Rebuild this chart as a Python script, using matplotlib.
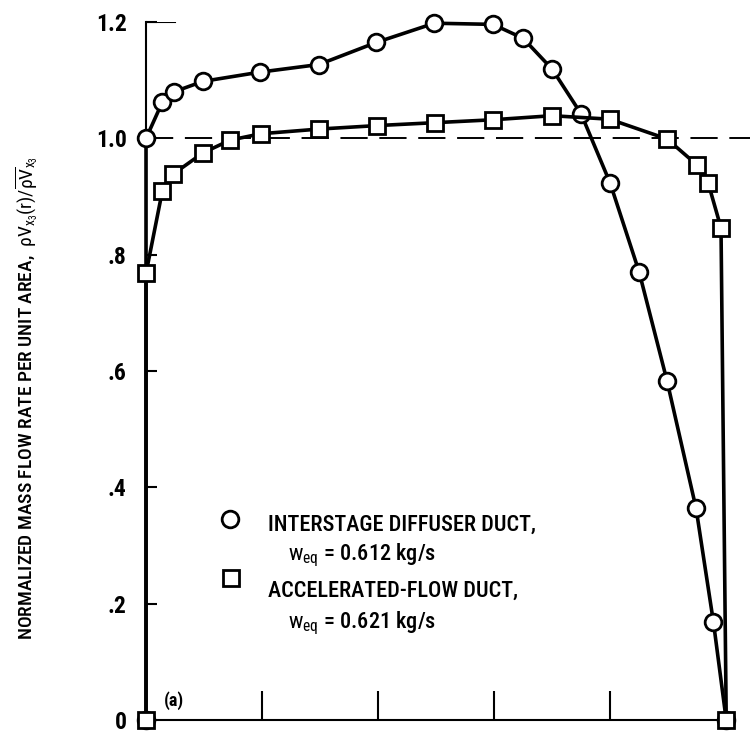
import matplotlib
matplotlib.use("Agg")
import matplotlib.pyplot as plt

plt.rcParams['font.family'] = ['Roboto Condensed', 'DejaVu Sans']
plt.rcParams['mathtext.fontset'] = 'custom'
plt.rcParams['mathtext.rm'] = 'Roboto Condensed'
plt.rcParams['mathtext.it'] = 'Roboto Condensed'
plt.rcParams['mathtext.bf'] = 'Roboto Condensed:bold'

# ── Data ─────────────────────────────────────────────────────────────────────
# interstage diffuser duct (circles)
circ_x = [0.0, 0.0, 0.028, 0.048, 0.098, 0.197, 0.298, 0.397, 0.497, 0.598,
          0.650, 0.700, 0.750, 0.800, 0.850, 0.898, 0.948, 0.978, 1.0]
circ_y = [0.0, 1.0, 1.062, 1.080, 1.098, 1.114, 1.127, 1.165, 1.198, 1.196,
          1.172, 1.119, 1.042, 0.923, 0.770, 0.583, 0.364, 0.168, 0.0]

# accelerated-flow duct (squares)
sq_x = [0.0, 0.0, 0.028, 0.046, 0.098, 0.145, 0.198, 0.298, 0.398, 0.498,
        0.598, 0.700, 0.799, 0.898, 0.950, 0.969, 0.991, 1.0]
sq_y = [0.0, 0.768, 0.909, 0.938, 0.975, 0.997, 1.008, 1.016, 1.022, 1.027,
        1.032, 1.039, 1.033, 0.999, 0.954, 0.923, 0.846, 0.0]

yticks = [0, 0.2, 0.4, 0.6, 0.8, 1.0, 1.2]
ytick_labels = ['0', '.2', '.4', '.6', '.8', '1.0', '1.2']
xticks = [0.2, 0.4, 0.6, 0.8]

label_circ = ['INTERSTAGE DIFFUSER DUCT,', r'$\mathrm{w}_{\mathrm{eq}}$ = 0.612 kg/s']
label_sq = ['ACCELERATED-FLOW DUCT,', r'$\mathrm{w}_{\mathrm{eq}}$ = 0.621 kg/s']

# ── Figure ───────────────────────────────────────────────────────────────────
fig = plt.figure(figsize=(7.55, 7.40), dpi=100)
ax = fig.add_axes([0.1934, 0.027, 0.80, 0.9432])

mk = dict(color='black', lw=2.6, mfc='white', mec='black', mew=2.0, clip_on=False)
ax.plot(circ_x, circ_y, marker='o', ms=12, zorder=3, **mk)
ax.plot(sq_x, sq_y, marker='s', ms=11, zorder=4, **mk)

ax.axhline(1.0, color='black', lw=1.4, dashes=(14, 6), zorder=1)
ax.axhline(1.2, xmax=0.05 / 1.041, color='black', lw=1.5)

ax.set_xlim(0, 1.041)
ax.set_ylim(0, 1.2)
for s in ['top', 'right']:
    ax.spines[s].set_visible(False)
for s in ['left', 'bottom']:
    ax.spines[s].set_linewidth(1.5)
ax.spines['bottom'].set_bounds(0, 1.0)

ax.set_yticks(yticks)
ax.set_yticklabels(ytick_labels, fontsize=17, fontweight='bold')
ax.tick_params(axis='y', direction='in', length=8, width=1.5, pad=14)
ax.set_xticks(xticks)
ax.set_xticklabels([])
ax.tick_params(axis='x', direction='in', length=21, width=1.5)

ax.set_ylabel('NORMALIZED MASS FLOW RATE PER UNIT AREA,  '
              r'$\rho V_{x_3}(r)/\overline{\rho V}_{x_3}$',
              fontsize=14, fontweight='medium')
ax.yaxis.set_label_coords(-0.176, 0.462)

ax.text(0.03, 0.025, '(a)', fontsize=13, fontweight='bold')

# legend drawn by hand
ax.plot([0.145], [0.346], marker='o', ms=12, mfc='white', mec='black', mew=2.0)
ax.text(0.210, 0.325, label_circ[0], fontsize=16, fontweight='medium')
ax.text(0.245, 0.275, label_circ[1], fontsize=16, fontweight='medium')
ax.plot([0.147], [0.244], marker='s', ms=11, mfc='white', mec='black', mew=2.0)
ax.text(0.210, 0.2115, label_sq[0], fontsize=16, fontweight='medium')
ax.text(0.245, 0.158, label_sq[1], fontsize=16, fontweight='medium')

fig.savefig('out.png', dpi=100)
